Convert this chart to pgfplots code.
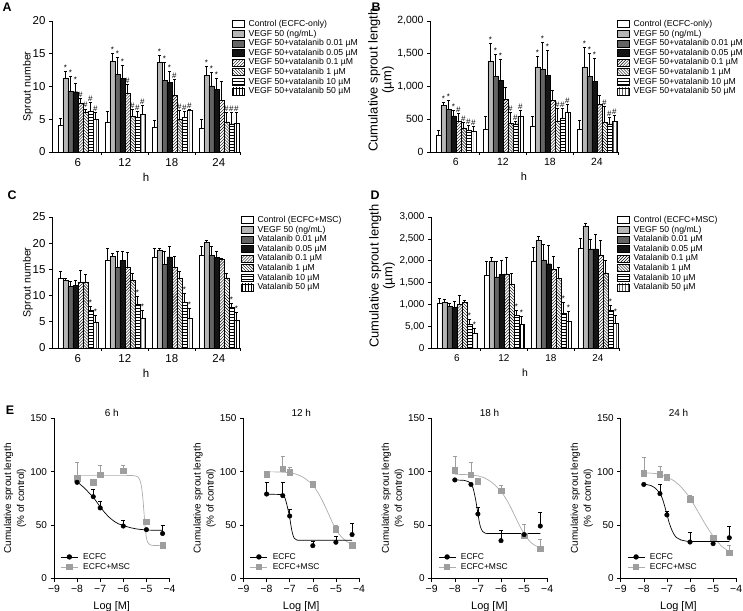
\documentclass[border=0pt]{standalone}
\usepackage{pgfplots}
\pgfplotsset{compat=1.18}
\usepackage{pgfplotstable}
\usepackage{fontspec}
\setmainfont{Liberation Sans}
\usetikzlibrary{patterns}

\definecolor{lgray}{RGB}{182,182,182}
\definecolor{dgray}{RGB}{100,100,100}
\definecolor{bblack}{RGB}{20,20,20}
\definecolor{mgray}{RGB}{158,158,158}
\definecolor{cgray}{RGB}{172,172,172}

% Panel A: sprout number, ECFC only
\pgfplotstableread{
x y1 y2 y3 y4 y5 y6 y7 y8 e1 e2 e3 e4 e5 e6 e7 e8 l1 l2 l3 l4 l5 l6 l7 l8
0 4.1 11.3 9.3 9.2 7.4 6.0 6.3 5.0 1.0 1.0 2.3 1.3 0.8 0.6 1.3 1.0 {} * * * \# \# \# \#
1 4.6 13.9 11.9 11.2 9.0 5.4 5.3 5.8 1.6 1.1 2.6 2.1 1.4 1.1 0.9 1.3 {} * * * \# \# \# \#
2 3.8 13.7 10.9 10.6 8.6 5.0 5.3 6.4 1.1 1.0 2.8 1.7 2.5 1.3 0.9 0.1 {} * * * \# \# \# \#
3 3.6 11.7 10.1 9.6 7.9 4.6 4.3 4.4 1.4 1.4 2.1 1.7 2.9 1.4 1.7 1.6 {} * * * {} \# \# \#
}\tabA
% Panel B: cumulative sprout length, ECFC only
\pgfplotstableread{
x y1 y2 y3 y4 y5 y6 y7 y8 e1 e2 e3 e4 e5 e6 e7 e8 l1 l2 l3 l4 l5 l6 l7 l8
0 250 710 650 550 470 370 330 310 80 50 140 90 120 90 80 80 {} * * * \# \# \# \#
1 350 1390 1150 1090 800 440 430 540 200 270 340 330 190 160 40 100 {} * * * {} \# \# \#
2 400 1300 1270 1170 790 470 520 610 150 160 400 380 150 200 150 120 {} * * * {} \# \# \#
3 350 1300 1150 1080 730 460 430 470 130 300 350 350 130 240 100 90 {} * * * {} \# \# \#
}\tabB
% Panel C: sprout number, ECFC+MSC
\pgfplotstableread{
x y1 y2 y3 y4 y5 y6 y7 y8 e1 e2 e3 e4 e5 e6 e7 e8 l1 l2 l3 l4 l5 l6 l7 l8
0 13.3 12.9 11.7 11.9 12.6 12.6 7.2 5.0 1.3 0.4 1.1 1.1 2.3 1.5 0.8 1.3 {} {} {} {} {} {} * *
1 16.7 17.5 15.4 16.7 15.5 13.0 8.3 5.6 2.3 0.5 3.1 1.8 2.8 1.3 1.6 1.6 {} {} {} {} {} {} * *
2 17.3 18.6 16.0 17.4 15.4 13.3 8.7 5.6 1.7 0.5 2.5 2.1 2.1 1.3 1.7 2.0 {} {} {} {} {} {} * *
3 17.8 20.1 17.7 17.3 16.9 13.4 7.8 5.4 1.6 0.4 1.8 1.2 0.3 0.9 0.8 1.5 {} {} {} {} {} {} * *
}\tabC
% Panel D: cumulative sprout length, ECFC+MSC
\pgfplotstableread{
x y1 y2 y3 y4 y5 y6 y7 y8 e1 e2 e3 e4 e5 e6 e7 e8 l1 l2 l3 l4 l5 l6 l7 l8
0 1020 1050 960 930 1000 1040 540 330 130 70 70 130 200 60 110 130 {} {} {} {} {} {} * *
1 1670 1990 1630 1690 1700 1470 740 540 320 80 350 330 380 240 130 190 {} {} {} {} {} {} * *
2 1980 2470 2020 1930 1800 1600 800 610 320 90 360 430 300 240 250 240 {} {} {} {} {} {} * *
3 2280 2790 2270 2270 2130 1720 870 570 240 70 230 340 340 280 110 190 {} {} {} {} {} {} * *
}\tabD

\pgfplotsset{
  /pgf/number format/assume math mode=true,
  barax/.style={
    scale only axis, width=188bp, height=131bp, anchor=south west,
    ybar=0pt, bar width=5bp,
    xmin=-0.55, xmax=3.45, ymin=0,
    axis lines=left, axis line style={-, line width=0.6pt},
    tick align=outside, major tick length=3bp, minor tick length=3bp,
    tick style={line width=0.6pt, black},
    xtick={0,1,2,3}, xticklabels={6,12,18,24},
    major x tick style={draw=none},
    minor xtick={0.5,1.5,2.5,3.45},
    xlabel={h},
    clip=false,
    every axis plot/.append style={draw=black, line width=0.4pt},
    legend image code/.code={\draw[##1,/tikz/.cd] (0bp,-3.5bp) rectangle (12bp,3.5bp);},
    legend cell align=left,
  },
  ebar/.style={error bars/y dir=plus, error bars/y explicit,
    error bars/error bar style={black, line width=0.5pt},
    error bars/error mark options={rotate=90, black, mark size=1.5bp, line width=0.5pt}},
  barleg/.style={legend style={at={(#1,1.014)}, anchor=north west, draw=none, fill=none, inner sep=0pt,
      font=\fontsize{8.7}{9}\selectfont, nodes={inner sep=0pt, minimum height=9.6bp}, column sep=4bp, row sep=0pt}},
  eax/.style={
    scale only axis, width=115.5bp, height=160bp, anchor=south west,
    xmin=-9, xmax=-4, ymin=0, ymax=150,
    axis lines=left, axis line style={-, line width=0.6pt},
    tick align=outside, major tick length=3.5bp, tick style={line width=0.6pt, black},
    xtick={-9,-8,-7,-6,-5,-4}, xticklabels={−9,−8,−7,−6,−5,−4},
    ytick={0,50,100,150},
    tick label style={font=\fontsize{10}{12}\selectfont},
    xticklabel style={font=\fontsize{10.5}{12}\selectfont},
    xlabel={Log [M]},
    xlabel style={font=\fontsize{11}{13}\selectfont, at={(axis description cs:0.5,0)}, anchor=center, yshift=-28bp},
    ylabel={Cumulative sprout length\\(\% of control)},
    ylabel style={align=center, font=\fontsize{10}{13}\selectfont, at={(axis description cs:-0.337,0.5)}, anchor=center},
    title style={font=\fontsize{10}{12}\selectfont, at={(axis description cs:0.5,1)}, anchor=center, yshift=-1bp},
    clip=false,
    legend style={at={(0.055,0.166)}, anchor=north west, draw=none, fill=none, inner sep=0pt,
      font=\fontsize{8.5}{10}\selectfont, nodes={inner sep=0pt, minimum height=10bp}, column sep=5bp, row sep=0pt},
    legend cell align=left,
    legend image code/.code={\draw[mark repeat=2,mark phase=2,##1] plot coordinates {(0bp,0bp) (8.5bp,0bp) (17bp,0bp)};},
  },
  ecfc/.style={only marks, mark=*, mark size=2.3bp, black, forget plot,
    error bars/y dir=plus, error bars/y explicit, error bars/error bar style={black, line width=0.6pt},
    error bars/error mark options={rotate=90, black, mark size=2bp, line width=0.6pt}},
  msc/.style={only marks, mark=square*, mark size=2.7bp, mgray, forget plot,
    error bars/y dir=plus, error bars/y explicit, error bars/error bar style={mgray, line width=0.6pt},
    error bars/error mark options={rotate=90, mgray, mark size=2bp, line width=0.6pt}},
  fitE/.style={black, line width=0.7pt, smooth, tension=0.3, forget plot, no marks},
  fitM/.style={cgray, line width=0.7pt, smooth, tension=0.3, forget plot, no marks},
}

% bar: style, table, index, shift
\newcommand\bplot[4]{\addplot[#1, ebar, bar shift=#4] table[x=x,y=y#3,y error=e#3]{#2};}
% significance label above the error bar: table, index, shift
\newcommand\lplot[3]{\addplot[forget plot, draw=none, fill=none, bar shift=#3,
  point meta=explicit symbolic, nodes near coords={\pgfplotspointmeta},
  every node near coord/.append style={font=\fontsize{8}{9}\selectfont, inner sep=0.6pt}]
  table[x=x, y expr=\thisrow{y#2}+\thisrow{e#2}, meta=l#2]{#1};}
\newcommand\alllabels[1]{%
\lplot{#1}{1}{-17.5bp}\lplot{#1}{2}{-12.5bp}\lplot{#1}{3}{-7.5bp}\lplot{#1}{4}{-2.5bp}%
\lplot{#1}{5}{2.5bp}\lplot{#1}{6}{7.5bp}\lplot{#1}{7}{12.5bp}\lplot{#1}{8}{17.5bp}}

\begin{document}
\begin{tikzpicture}
\useasboundingbox (0,0) rectangle (743bp,611bp);

% ---------------- A ----------------
\begin{axis}[barax, at={(52bp,459bp)},
  ymax=20, ytick={0,5,10,15,20},
  tick label style={font=\fontsize{11.5}{13}\selectfont},
  ylabel={Sprout number},
  ylabel style={font=\fontsize{10.6}{12}\selectfont, at={(axis description cs:-0.128,0.5)}, anchor=center},
  xlabel style={font=\fontsize{11.5}{13}\selectfont, at={(axis description cs:0.5,0)}, anchor=center, yshift=-25bp},
  barleg=0.957]
\bplot{fill=white}{\tabA}{1}{-17.5bp}\addlegendentry{Control (ECFC-only)}
\bplot{fill=lgray}{\tabA}{2}{-12.5bp}\addlegendentry{VEGF 50 (ng/mL)}
\bplot{fill=dgray}{\tabA}{3}{-7.5bp}\addlegendentry{VEGF 50+vatalanib 0.01 µM}
\bplot{fill=bblack}{\tabA}{4}{-2.5bp}\addlegendentry{VEGF 50+vatalanib 0.05 µM}
\bplot{pattern=north east lines}{\tabA}{5}{2.5bp}\addlegendentry{VEGF 50+vatalanib 0.1 µM}
\bplot{pattern=north west lines}{\tabA}{6}{7.5bp}\addlegendentry{VEGF 50+vatalanib 1 µM}
\bplot{pattern=horizontal lines}{\tabA}{7}{12.5bp}\addlegendentry{VEGF 50+vatalanib 10 µM}
\bplot{pattern=vertical lines}{\tabA}{8}{17.5bp}\addlegendentry{VEGF 50+vatalanib 50 µM}
\alllabels{\tabA}
\end{axis}

% ---------------- B ----------------
\begin{axis}[barax, at={(430bp,459bp)},
  ymax=2000, ytick={0,500,1000,1500,2000}, yticklabels={0,500,{1,000},{1,500},{2,000}},
  tick label style={font=\fontsize{10.5}{12}\selectfont},
  ylabel={Cumulative sprout length\\(µm)},
  ylabel style={align=center, font=\fontsize{13}{14}\selectfont, at={(axis description cs:-0.26,0.55)}, anchor=center},
  xlabel style={font=\fontsize{11}{13}\selectfont, at={(axis description cs:0.5,0)}, anchor=center, yshift=-25bp},
  barleg=0.995]
\bplot{fill=white}{\tabB}{1}{-17.5bp}\addlegendentry{Control (ECFC-only)}
\bplot{fill=lgray}{\tabB}{2}{-12.5bp}\addlegendentry{VEGF 50 (ng/mL)}
\bplot{fill=dgray}{\tabB}{3}{-7.5bp}\addlegendentry{VEGF 50+vatalanib 0.01 µM}
\bplot{fill=bblack}{\tabB}{4}{-2.5bp}\addlegendentry{VEGF 50+vatalanib 0.05 µM}
\bplot{pattern=north east lines}{\tabB}{5}{2.5bp}\addlegendentry{VEGF 50+vatalanib 0.1 µM}
\bplot{pattern=north west lines}{\tabB}{6}{7.5bp}\addlegendentry{VEGF 50+vatalanib 1 µM}
\bplot{pattern=horizontal lines}{\tabB}{7}{12.5bp}\addlegendentry{VEGF 50+vatalanib 10 µM}
\bplot{pattern=vertical lines}{\tabB}{8}{17.5bp}\addlegendentry{VEGF 50+vatalanib 50 µM}
\alllabels{\tabB}
\end{axis}

% ---------------- C ----------------
\begin{axis}[barax, at={(52bp,263bp)},
  ymax=25, ytick={0,5,10,15,20,25},
  tick label style={font=\fontsize{11.5}{13}\selectfont},
  ylabel={Sprout number},
  ylabel style={font=\fontsize{10.6}{12}\selectfont, at={(axis description cs:-0.128,0.5)}, anchor=center},
  xlabel style={font=\fontsize{11.5}{13}\selectfont, at={(axis description cs:0.5,0)}, anchor=center, yshift=-25bp},
  barleg=1.005]
\bplot{fill=white}{\tabC}{1}{-17.5bp}\addlegendentry{Control (ECFC+MSC)}
\bplot{fill=lgray}{\tabC}{2}{-12.5bp}\addlegendentry{VEGF 50 (ng/mL)}
\bplot{fill=dgray}{\tabC}{3}{-7.5bp}\addlegendentry{Vatalanib 0.01 µM}
\bplot{fill=bblack}{\tabC}{4}{-2.5bp}\addlegendentry{Vatalanib 0.05 µM}
\bplot{pattern=north east lines}{\tabC}{5}{2.5bp}\addlegendentry{Vatalanib 0.1 µM}
\bplot{pattern=north west lines}{\tabC}{6}{7.5bp}\addlegendentry{Vatalanib 1 µM}
\bplot{pattern=horizontal lines}{\tabC}{7}{12.5bp}\addlegendentry{Vatalanib 10 µM}
\bplot{pattern=vertical lines}{\tabC}{8}{17.5bp}\addlegendentry{Vatalanib 50 µM}
\alllabels{\tabC}
\end{axis}

% ---------------- D ----------------
\begin{axis}[barax, at={(431bp,263bp)},
  ymax=3000, ytick={0,500,1000,1500,2000,2500,3000},
  yticklabels={0,{5,00},{1,000},{1,500},{2,000},{2,500},{3,000}},
  tick label style={font=\fontsize{10}{12}\selectfont},
  ylabel={Cumulative sprout length\\(µm)},
  ylabel style={align=center, font=\fontsize{13}{14}\selectfont, at={(axis description cs:-0.26,0.55)}, anchor=center},
  xlabel style={font=\fontsize{10.5}{13}\selectfont, at={(axis description cs:0.5,0)}, anchor=center, yshift=-25bp},
  barleg=0.989]
\bplot{fill=white}{\tabD}{1}{-17.5bp}\addlegendentry{Control (ECFC+MSC)}
\bplot{fill=lgray}{\tabD}{2}{-12.5bp}\addlegendentry{VEGF 50 (ng/mL)}
\bplot{fill=dgray}{\tabD}{3}{-7.5bp}\addlegendentry{Vatalanib 0.01 µM}
\bplot{fill=bblack}{\tabD}{4}{-2.5bp}\addlegendentry{Vatalanib 0.05 µM}
\bplot{pattern=north east lines}{\tabD}{5}{2.5bp}\addlegendentry{Vatalanib 0.1 µM}
\bplot{pattern=north west lines}{\tabD}{6}{7.5bp}\addlegendentry{Vatalanib 1 µM}
\bplot{pattern=horizontal lines}{\tabD}{7}{12.5bp}\addlegendentry{Vatalanib 10 µM}
\bplot{pattern=vertical lines}{\tabD}{8}{17.5bp}\addlegendentry{Vatalanib 50 µM}
\alllabels{\tabD}
\end{axis}

% ---------------- E: 6 h ----------------
\begin{axis}[eax, at={(54bp,32.7bp)}, title={6 h}]
\addplot[fitM] coordinates {(-8,96.5) (-6,96.5) (-5.6,96.3) (-5.4,95.5) (-5.3,93) (-5.22,87) (-5.16,77) (-5.12,66) (-5.08,55) (-5.04,45) (-5.0,38) (-4.95,34) (-4.85,31.5) (-4.7,30.8) (-4.3,30.6)};
\addplot[fitE] coordinates {(-8,90.5) (-7.7,85) (-7.5,80.5) (-7.3,76) (-7.1,70) (-7,67) (-6.8,61.5) (-6.6,57) (-6.4,53.5) (-6.2,51) (-6,49.5) (-5.7,47.5) (-5.4,46.2) (-5,45.3) (-4.6,45) (-4.3,45)};
\addplot[msc] coordinates {(-8,94) +- (0,15) (-7.3,90) (-7,97) +- (0,8.5) (-6,101) +- (0,5) (-5,53) +- (0,2) (-4.3,31)};
\addplot[ecfc] coordinates {(-8,90) +- (0,2) (-7.3,76.5) +- (0,6.5) (-7,66) +- (0,6.5) (-6,49) +- (0,5) (-5,45.6) (-4.3,42) +- (0,8)};
\addlegendimage{black, mark=*, mark size=2.3bp, line width=0.7pt}\addlegendentry{ECFC}
\addlegendimage{cgray, line width=0.7pt, mark=square*, mark size=2.7bp, mark options={mgray}}\addlegendentry{ECFC+MSC}
\end{axis}

% ---------------- E: 12 h ----------------
\begin{axis}[eax, at={(243.5bp,32.7bp)}, title={12 h}]
\addplot[fitM] coordinates {(-8,99.8) (-7.5,99.7) (-7,99) (-6.7,97.5) (-6.4,94.5) (-6.1,89.5) (-5.9,84.5) (-5.7,77.5) (-5.5,69) (-5.3,59.5) (-5.1,50) (-4.9,42.5) (-4.7,37.5) (-4.5,34) (-4.3,32.5)};
\addplot[fitE] coordinates {(-8,78.7) (-7.6,78.7) (-7.35,78.5) (-7.3,78.3) (-7.2,75) (-7.1,67) (-7.0,57) (-6.95,50) (-6.9,44) (-6.85,40) (-6.8,37.5) (-6.7,36) (-6.5,35.6) (-4.3,35.6)};
\addplot[msc] coordinates {(-8,97.5) (-7.3,102.5) +- (0,11.5) (-7,99.4) +- (0,4.6) (-6,88.4) (-5,46) +- (0,4) (-4.3,31)};
\addplot[ecfc] coordinates {(-8,79) +- (0,11) (-7.3,77.5) +- (0,12.5) (-7,58.4) +- (0,6.3) (-6,30.6) +- (0,3.8) (-5,33.8) +- (0,5.2) (-4.3,41) +- (0,10.6)};
\addlegendimage{black, mark=*, mark size=2.3bp, line width=0.7pt}\addlegendentry{ECFC}
\addlegendimage{cgray, line width=0.7pt, mark=square*, mark size=2.7bp, mark options={mgray}}\addlegendentry{ECFC+MSC}
\end{axis}

% ---------------- E: 18 h ----------------
\begin{axis}[eax, at={(431.7bp,32.7bp)}, title={18 h}]
\addplot[fitM] coordinates {(-8,97.5) (-7.5,97.2) (-7,96) (-6.7,94) (-6.4,90) (-6.1,84) (-5.9,78.5) (-5.7,71.5) (-5.5,63) (-5.3,54) (-5.1,45.5) (-4.9,38.5) (-4.7,33.5) (-4.5,30.5) (-4.3,29)};
\addplot[fitE] coordinates {(-8,92.2) (-7.6,91.8) (-7.4,90.5) (-7.3,88.5) (-7.2,84) (-7.1,74) (-7.0,61) (-6.95,54) (-6.9,49) (-6.85,46) (-6.8,44) (-6.7,42.5) (-6.5,42) (-4.3,42)};
\addplot[msc] coordinates {(-8,101.5) +- (0,12.5) (-7.3,97) +- (0,11.4) (-7,91) (-6,82) +- (0,5) (-5,39.7) +- (0,11) (-4.3,28) +- (0,8.8)};
\addplot[ecfc] coordinates {(-8,92.2) (-7.3,88) (-7,60.3) +- (0,6) (-6,35.3) +- (0,10) (-5,41) (-4.3,49) +- (0,12.5)};
\addlegendimage{black, mark=*, mark size=2.3bp, line width=0.7pt}\addlegendentry{ECFC}
\addlegendimage{cgray, line width=0.7pt, mark=square*, mark size=2.7bp, mark options={mgray}}\addlegendentry{ECFC+MSC}
\end{axis}

% ---------------- E: 24 h ----------------
\begin{axis}[eax, at={(620.7bp,32.7bp)}, title={24 h}]
\addplot[fitM] coordinates {(-8,99) (-7.5,98.2) (-7.2,96.5) (-7,95) (-6.7,91.5) (-6.4,86) (-6.2,81) (-6,75) (-5.8,68) (-5.6,60.5) (-5.4,53) (-5.2,46) (-5,39.5) (-4.8,34) (-4.6,29.5) (-4.3,25)};
\addplot[fitE] coordinates {(-8,88.3) (-7.7,87) (-7.5,84.5) (-7.3,79.5) (-7.2,75) (-7.1,68) (-7.0,60) (-6.9,52) (-6.8,46) (-6.7,41.5) (-6.6,38.5) (-6.4,36) (-6.2,35) (-6,34.6) (-4.3,34.5)};
\addplot[msc] coordinates {(-8,98.4) +- (0,14.6) (-7.3,97.5) +- (0,7.2) (-7,94.7) (-6,74) +- (0,4) (-5,38) (-4.3,24) +- (0,7)};
\addplot[ecfc] coordinates {(-8,88) (-7.3,79.4) +- (0,8.6) (-7,59.4) +- (0,3.8) (-6,34) +- (0,9) (-5,32.5) (-4.3,38) +- (0,11)};
\addlegendimage{black, mark=*, mark size=2.3bp, line width=0.7pt}\addlegendentry{ECFC}
\addlegendimage{cgray, line width=0.7pt, mark=square*, mark size=2.7bp, mark options={mgray}}\addlegendentry{ECFC+MSC}
\end{axis}

% panel letters
\node[font=\bfseries\fontsize{12.5}{14}\selectfont] at (7bp,603.5bp) {A};
\node[font=\bfseries\fontsize{12.5}{14}\selectfont] at (376bp,603.5bp) {B};
\node[font=\bfseries\fontsize{12.5}{14}\selectfont] at (12bp,416bp) {C};
\node[font=\bfseries\fontsize{12.5}{14}\selectfont] at (375bp,416bp) {D};
\node[font=\bfseries\fontsize{12.5}{14}\selectfont] at (10bp,201bp) {E};
\end{tikzpicture}
\end{document}
